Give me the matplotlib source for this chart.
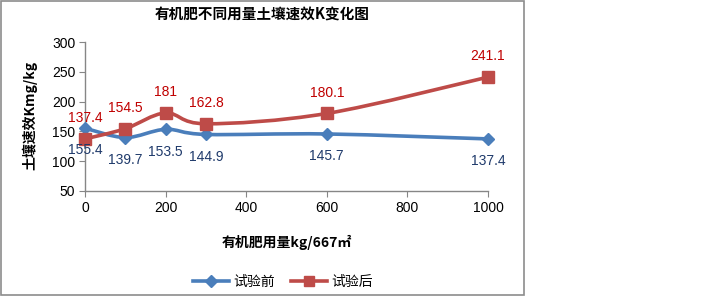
import numpy as np
import matplotlib
matplotlib.use("Agg")
import matplotlib.pyplot as plt
from matplotlib.path import Path
from matplotlib.patches import PathPatch, Rectangle
from matplotlib.lines import Line2D

plt.rcParams['font.family'] = ['Noto Sans CJK SC', 'DejaVu Sans']

# data
doses = [0, 100, 200, 300, 600, 1000]
before = [155.4, 139.7, 153.5, 144.9, 145.7, 137.4]
after = [137.4, 154.5, 181, 162.8, 180.1, 241.1]
series_names = ['试验前', '试验后']
title = '有机肥不同用量土壤速效K变化图'
xlabel = '有机肥用量kg/667㎡'
ylabel = '土壤速效Kmg/kg'

blue = '#4A7EBB'
red = '#BE4B48'
blue_txt = '#1F3A6B'
red_txt = '#C00000'
grey = '#868686'

W, H = 720, 296
fig = plt.figure(figsize=(W / 100, H / 100), dpi=100)
fig.patch.set_facecolor('white')

# chart area border
fig.patches.append(Rectangle((1 / W, 1 / H), 523 / W, 294 / H, transform=fig.transFigure,
                             fill=False, edgecolor='#8C8C8C', linewidth=1.2))

ax = fig.add_axes([85 / W, (H - 191) / H, (488 - 85) / W, (191 - 42) / H])
ax.set_xlim(0, 1000)
ax.set_ylim(50, 300)
ax.set_xticks(range(0, 1001, 200))
ax.set_yticks(range(50, 301, 50))
for s in ['top', 'right']:
    ax.spines[s].set_visible(False)
for s in ['left', 'bottom']:
    ax.spines[s].set_color(grey)
    ax.spines[s].set_linewidth(1)
ax.tick_params(axis='both', direction='out', length=4, color=grey, labelsize=10, pad=3)
for lbl in ax.get_xticklabels() + ax.get_yticklabels():
    lbl.set_fontfamily(['Liberation Sans', 'DejaVu Sans'])


def smooth_path(xs, ys):
    # Bezier curve through the points (Catmull-Rom style control points)
    pts = np.column_stack([xs, ys]).astype(float)
    verts = [pts[0]]
    codes = [Path.MOVETO]
    n = len(pts)
    for i in range(n - 1):
        p0 = pts[max(i - 1, 0)]
        p1 = pts[i]
        p2 = pts[i + 1]
        p3 = pts[min(i + 2, n - 1)]
        c1 = p1 + (p2 - p0) / 6
        c2 = p2 - (p3 - p1) / 6
        verts += [c1, c2, p2]
        codes += [Path.CURVE4] * 3
    return Path(verts, codes)


for ys, col, mk, ms in [(before, blue, 'D', 6.5), (after, red, 's', 8)]:
    ax.add_patch(PathPatch(smooth_path(doses, ys), facecolor='none', edgecolor=col,
                           linewidth=2.6, capstyle='round', joinstyle='round', zorder=2))
    ax.plot(doses, ys, linestyle='none', marker=mk, markersize=ms, color=col, zorder=3,
            clip_on=False)

for x, y in zip(doses, before):
    ax.annotate(f'{y:g}', (x, y), xytext=(0, -16), textcoords='offset points',
                ha='center', va='center', color=blue_txt, fontsize=10,
                fontfamily=['Liberation Sans', 'DejaVu Sans'])
for x, y in zip(doses, after):
    ax.annotate(f'{y:g}', (x, y), xytext=(0, 15), textcoords='offset points',
                ha='center', va='center', color=red_txt, fontsize=10,
                fontfamily=['Liberation Sans', 'DejaVu Sans'])

fig.text(262 / W, 1 - 15 / H, title, ha='center', va='center', fontsize=10.5, fontweight='bold')
fig.text(287 / W, 1 - 242 / H, xlabel, ha='center', va='center', fontsize=10, fontweight='bold')
fig.text(30 / W, 1 - 115 / H, ylabel, ha='center', va='center', fontsize=10, fontweight='bold',
         rotation=90)

handles = [Line2D([], [], color=blue, linewidth=2.6, marker='D', markersize=6),
           Line2D([], [], color=red, linewidth=2.6, marker='s', markersize=7)]
fig.legend(handles, series_names, loc='center', bbox_to_anchor=(283 / W, 1 - 282 / H),
           ncol=2, frameon=False, fontsize=10, handlelength=2.6, handletextpad=0.3,
           columnspacing=1.2)

fig.savefig('out.png', dpi=100)
